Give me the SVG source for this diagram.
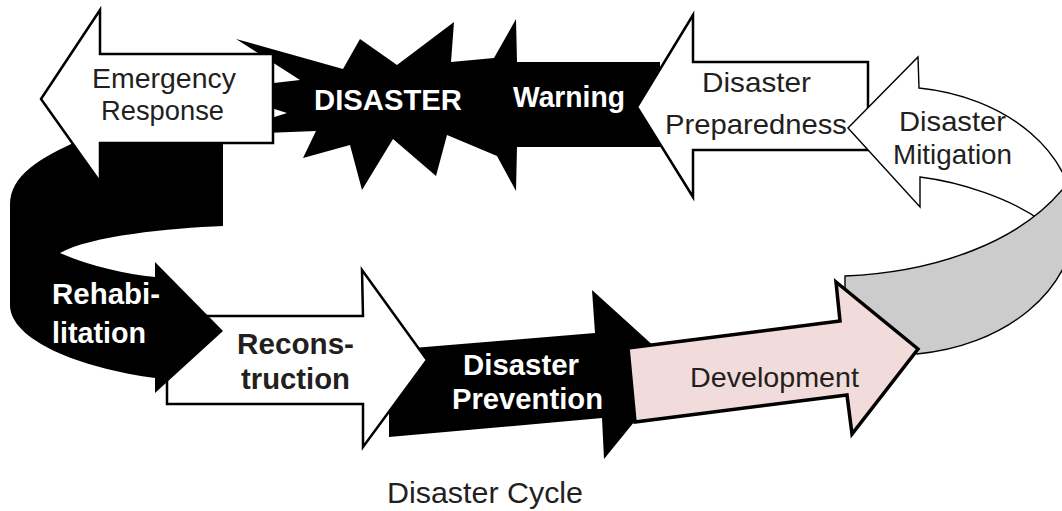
<svg xmlns="http://www.w3.org/2000/svg" width="1062" height="511" viewBox="0 0 1062 511">
<style>
.blk{fill:#000;stroke:none}
.wht{fill:#fff;stroke:#000;stroke-width:2.5;stroke-linejoin:miter}
.thin{stroke-width:1.4}
.t{font-family:"Liberation Sans",Arial,sans-serif;fill:#231f20}
.r{font-size:28px}
.b{font-size:29px;font-weight:bold}
.w{fill:#fff}
</style>
<rect width="1062" height="511" fill="#fff"/>
<g id="connectors">
<g id="disaster">
<path class="blk" d="M236,39 L343,69 L360,39 L397,65 L454,22 L451,62 L494,58 L516,19 L517,62 L660,62 L660,147 L517,147 L516,191 L497,156 L447,135 L436,176 L393,139 L362,190 L350,145 L303,158 L316,131 L265,133 L265,120 L287,113 L265,106 L265,84 L300,80 Z"/>
<text class="t b w" x="314" y="110" textLength="148" lengthAdjust="spacingAndGlyphs">DISASTER</text>
<text class="t b w" x="513" y="107" font-size="28" textLength="112" lengthAdjust="spacingAndGlyphs">Warning</text>
</g>
<g id="preparedness">
<path class="wht" d="M637,107 L693,15 L693,62 L868,62 L868,150 L693,150 L693,197 Z"/>
<text class="t r" x="702" y="92" textLength="109" lengthAdjust="spacingAndGlyphs">Disaster</text>
<text class="t r" x="665" y="134" textLength="182" lengthAdjust="spacingAndGlyphs">Preparedness</text>
</g>
<g id="mitigation">
<path class="wht thin" d="M848,128 L918,57 L919,88 A180 135 0 0 1 1075,222 L1075,262 L1043,222 C1010,198 960,182 920,177 L920,207 Z"/>
<path fill="#cccccc" stroke="#000" stroke-width="1.4" d="M845,276 C940,272 1020,240 1062,190 L1080,190 L1075,222 A180 135 0 0 1 917,354 L880,330 L845,300 Z"/>
<text class="t r" x="899" y="131" textLength="107" lengthAdjust="spacingAndGlyphs">Disaster</text>
<text class="t r" x="893" y="164" textLength="119" lengthAdjust="spacingAndGlyphs">Mitigation</text>
</g>
<g id="prevention">
<path class="blk" d="M389,350 L595,333 L592,290 L678,368 L604,459 L602,418 L389,437 Z"/>
<text class="t b w" x="463" y="375" textLength="116" lengthAdjust="spacingAndGlyphs">Disaster</text>
<text class="t b w" x="452" y="409" textLength="151" lengthAdjust="spacingAndGlyphs">Prevention</text>
</g>
<g id="development">
<path fill="#f2dcdb" stroke="#000" stroke-width="3.5" stroke-linejoin="miter" d="M628,348 L840,321 L836,282 L918,349 L852,434 L847,395 L635,422 Z"/>
<text class="t r" x="690" y="387" font-size="29" textLength="169" lengthAdjust="spacingAndGlyphs">Development</text>
</g>
<g id="reconstruction">
<path class="wht" d="M427,360 L362,270 L363,316 L167,316 L167,404 L363,404 L363,447 Z"/>
<text class="t b" x="237" y="354" textLength="117" lengthAdjust="spacingAndGlyphs">Recons-</text>
<text class="t b" x="241" y="389" textLength="109" lengthAdjust="spacingAndGlyphs">truction</text>
</g>
<g id="rehabilitation">
<path class="blk" d="M223,130 L223,226 C170,228 90,236 60,253 C90,266 125,274 155,277 L155,262 L223,331 L155,393 L155,378 C80,368 10,340 10,305 L10,205 C10,175 40,158 80,140 Z"/>
<text class="t b w" x="52" y="304" textLength="108" lengthAdjust="spacingAndGlyphs">Rehabi-</text>
<text class="t b w" x="52" y="343" textLength="94" lengthAdjust="spacingAndGlyphs">litation</text>
</g>
<g id="emergency">
<path class="wht" d="M41,99 L100,10 L100,54 L273,54 L273,143 L100,143 L100,182 Z"/>
<text class="t r" x="92" y="88" textLength="144" lengthAdjust="spacingAndGlyphs">Emergency</text>
<text class="t r" x="101" y="120" textLength="123" lengthAdjust="spacingAndGlyphs">Response</text>
</g>
</g>
<g id="caption">
<text class="t" x="387" y="503" font-size="30" textLength="196" lengthAdjust="spacingAndGlyphs">Disaster Cycle</text>
</g>
</svg>
